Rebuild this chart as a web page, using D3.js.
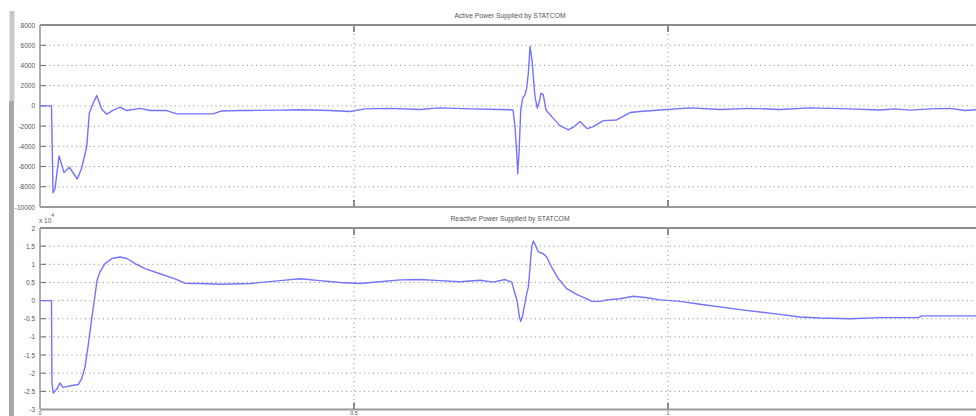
<!DOCTYPE html>
<html>
<head>
<meta charset="utf-8">
<script src="https://cdn.jsdelivr.net/npm/d3@7"></script>
<style>
  html, body { margin: 0; padding: 0; background: #fff; }
  svg { display: block; }
  text { font-family: "Liberation Sans", Arial, sans-serif; fill: #555; }
</style>
</head>
<body>
<svg id="chart" width="976" height="416"></svg>
<script>
// Time axis (s); the view runs from 0 to just under 1.5 s
const timeDomain = [0, 1.5];
const timeTicks = [0, 0.5, 1];
const timeTickLabels = ["0", "0.5", "1"];

// Active power supplied by the STATCOM (W)
const activeTime = [0.0000, 0.0183, 0.0207, 0.0239, 0.0303, 0.0382, 0.0467, 0.0594, 0.0664, 0.0744,
  0.0785, 0.0849, 0.0903, 0.0982, 0.1062, 0.1162, 0.1274, 0.1381, 0.1592, 0.1752,
  0.2018, 0.2177, 0.2755, 0.2893, 0.3185, 0.3344, 0.3822, 0.4140, 0.4618, 0.4936,
  0.5175, 0.5573, 0.6051, 0.6369, 0.6847, 0.7325, 0.7532, 0.7564, 0.7591, 0.7607,
  0.7628, 0.7655, 0.7686, 0.7723, 0.7750, 0.7776, 0.7803, 0.7819, 0.7839, 0.7855,
  0.7882, 0.7919, 0.7951, 0.7978, 0.8015, 0.8057, 0.8148, 0.8280, 0.8413, 0.8492,
  0.8599, 0.8652, 0.8715, 0.8811, 0.8970, 0.9183, 0.9395, 0.9554, 0.9873, 1.0350,
  1.0828, 1.1306, 1.1783, 1.2261, 1.2898, 1.3376, 1.3615, 1.3854, 1.4172, 1.4490,
  1.4729, 1.4968];
const activePower = [0, 0, -8600, -8200, -4950, -6600, -6070, -7230, -6140, -4030,
  -700, 300, 1020, -300, -820, -450, -130, -460, -250, -460,
  -460, -790, -790, -500, -460, -450, -420, -380, -450, -550,
  -300, -250, -350, -200, -300, -350, -400, -2050, -4650, -6730,
  -4650, -400, 760, 1090, 1750, 3240, 5870, 5220, 4230, 2900,
  920, -230, 430, 1260, 1090, -400, -1060, -1950, -2380, -2110,
  -1550, -1880, -2250, -2050, -1460, -1390, -660, -560, -400, -200,
  -350, -250, -350, -200, -300, -400, -300, -420, -300, -250,
  -450, -350];
const activeTicks = [8000, 6000, 4000, 2000, 0, -2000, -4000, -6000, -8000, -10000];

// Reactive power supplied by the STATCOM (var, in units of 10^4)
const reactiveTime = [0.0000, 0.0183, 0.0191, 0.0212, 0.0271, 0.0318, 0.0366, 0.0425, 0.0510, 0.0610,
  0.0664, 0.0717, 0.0764, 0.0812, 0.0865, 0.0908, 0.0955, 0.1035, 0.1147, 0.1274,
  0.1385, 0.1513, 0.1672, 0.1911, 0.2150, 0.2309, 0.2548, 0.2866, 0.3344, 0.3822,
  0.4140, 0.4459, 0.4777, 0.5096, 0.5414, 0.5732, 0.6051, 0.6369, 0.6688, 0.7006,
  0.7218, 0.7405, 0.7511, 0.7564, 0.7601, 0.7633, 0.7655, 0.7686, 0.7750, 0.7776,
  0.7803, 0.7830, 0.7855, 0.7893, 0.7935, 0.8015, 0.8069, 0.8148, 0.8254, 0.8387,
  0.8546, 0.8706, 0.8785, 0.8917, 0.9024, 0.9236, 0.9448, 0.9661, 0.9873, 1.0191,
  1.0510, 1.1147, 1.1783, 1.2102, 1.2420, 1.2898, 1.3376, 1.3981, 1.4045, 1.4968];
const reactivePower = [0, 0, -2.29, -2.55, -2.43, -2.27, -2.39, -2.37, -2.34, -2.31,
  -2.15, -1.83, -1.28, -0.64, 0, 0.56, 0.79, 1.02, 1.16, 1.20,
  1.16, 1.02, 0.88, 0.74, 0.60, 0.48, 0.47, 0.45, 0.47, 0.55,
  0.60, 0.55, 0.50, 0.47, 0.52, 0.57, 0.58, 0.55, 0.52, 0.56,
  0.51, 0.58, 0.51, 0.19, -0.04, -0.45, -0.57, -0.41, 0.19, 0.37,
  0.92, 1.48, 1.64, 1.52, 1.34, 1.29, 1.20, 0.92, 0.60, 0.33,
  0.17, 0.05, -0.02, -0.02, 0.02, 0.05, 0.12, 0.08, 0.02, -0.02,
  -0.10, -0.25, -0.38, -0.45, -0.48, -0.50, -0.47, -0.47, -0.42, -0.42];
const reactiveTicks = [2, 1.5, 1, 0.5, 0, -0.5, -1, -1.5, -2, -2.5, -3];
const reactiveTickLabels = ["2", "1.5", "1", "0.5", "0", "-0.5", "-1", "-1.5", "-2", "-2.5", "-3"];

const svg = d3.select("#chart");

// window frame strip on the left
const grad = svg.append("defs").append("linearGradient").attr("id", "strip")
  .attr("x1", 0).attr("x2", 1).attr("y1", 0).attr("y2", 0);
grad.append("stop").attr("offset", "0%").attr("stop-color", "#e4e4e4");
grad.append("stop").attr("offset", "50%").attr("stop-color", "#bdbdbd");
grad.append("stop").attr("offset", "100%").attr("stop-color", "#e6e6e6");
svg.append("rect").attr("x", 9).attr("y", 11).attr("width", 6).attr("height", 90).attr("fill", "url(#strip)");
svg.append("rect").attr("x", 9).attr("y", 101).attr("width", 5).attr("height", 315).attr("fill", "#a6a6a6");

const x = d3.scaleLinear().domain(timeDomain).range([40, 982]);

function panel(cfg) {
  const y = d3.scaleLinear().domain(cfg.domain).range([cfg.bottom, cfg.top]);
  const g = svg.append("g");

  // dotted grid
  g.selectAll("line.hgrid").data(cfg.ticks.filter(t => t > cfg.domain[0] && t < cfg.domain[1]))
    .join("line").attr("class", "hgrid")
    .attr("x1", 40).attr("x2", 982)
    .attr("y1", d => y(d)).attr("y2", d => y(d))
    .attr("stroke", "#8a8a8a").attr("stroke-width", 1).attr("stroke-dasharray", "1,3.5");
  g.selectAll("line.vgrid").data(timeTicks.filter(t => t > 0))
    .join("line").attr("class", "vgrid")
    .attr("x1", d => x(d)).attr("x2", d => x(d))
    .attr("y1", cfg.top).attr("y2", cfg.bottom)
    .attr("stroke", "#8a8a8a").attr("stroke-width", 1).attr("stroke-dasharray", "1,3.5");

  // inward tick marks
  g.selectAll("line.ytick").data(cfg.ticks)
    .join("line").attr("class", "ytick")
    .attr("x1", 40).attr("x2", 46)
    .attr("y1", d => y(d)).attr("y2", d => y(d))
    .attr("stroke", "#666").attr("stroke-width", 1);
  g.selectAll("line.xtickT").data(timeTicks.filter(t => t > 0))
    .join("line").attr("class", "xtickT")
    .attr("x1", d => x(d)).attr("x2", d => x(d))
    .attr("y1", cfg.top).attr("y2", cfg.top + 7)
    .attr("stroke", "#555").attr("stroke-width", 1.3);
  g.selectAll("line.xtickB").data(timeTicks.filter(t => t > 0))
    .join("line").attr("class", "xtickB")
    .attr("x1", d => x(d)).attr("x2", d => x(d))
    .attr("y1", cfg.bottom - 7).attr("y2", cfg.bottom)
    .attr("stroke", "#555").attr("stroke-width", 1.3);

  // axes box
  g.append("line").attr("x1", 40).attr("x2", 982).attr("y1", cfg.top).attr("y2", cfg.top)
    .attr("stroke", "#8c8c8c").attr("stroke-width", 2);
  g.append("line").attr("x1", 40).attr("x2", 982).attr("y1", cfg.bottom).attr("y2", cfg.bottom)
    .attr("stroke", "#9a9a9a").attr("stroke-width", 2);
  g.append("line").attr("x1", 40).attr("x2", 40).attr("y1", cfg.top).attr("y2", cfg.bottom)
    .attr("stroke", "#9a9a9a").attr("stroke-width", 1.6);

  // y tick labels
  g.selectAll("text.ylab").data(cfg.ticks)
    .join("text").attr("class", "ylab")
    .attr("x", 35).attr("y", d => y(d))
    .attr("text-anchor", "end").attr("dominant-baseline", "central")
    .attr("font-size", 6.5)
    .text((d, i) => cfg.labels[i]);

  // title
  g.append("text").attr("x", 510).attr("y", cfg.top - 7)
    .attr("text-anchor", "middle").attr("font-size", 6.8)
    .text(cfg.title);

  // trace
  const pts = cfg.times.map((t, i) => [t, cfg.values[i]]);
  g.append("path").datum(pts)
    .attr("fill", "none").attr("stroke", "#7373ff").attr("stroke-width", 1.4)
    .attr("stroke-linejoin", "round")
    .attr("d", d3.line().x(d => x(d[0])).y(d => y(d[1])));
  return y;
}

panel({
  top: 25, bottom: 207, domain: [-10000, 8000],
  ticks: activeTicks, labels: activeTicks.map(String),
  times: activeTime, values: activePower,
  title: "Active Power Supplied by STATCOM"
});

panel({
  top: 228, bottom: 409.5, domain: [-3, 2],
  ticks: reactiveTicks, labels: reactiveTickLabels,
  times: reactiveTime, values: reactivePower,
  title: "Reactive Power Supplied by STATCOM"
});

// exponent label for the reactive axis
const expo = svg.append("text").attr("x", 39).attr("y", 223).attr("font-size", 6.5);
expo.append("tspan").text("x 10");
expo.append("tspan").attr("dy", -6).attr("font-size", 5).text("4");

// time tick labels along the bottom edge
svg.selectAll("text.xlab").data(timeTicks)
  .join("text").attr("class", "xlab")
  .attr("x", d => x(d)).attr("y", 410.5)
  .attr("text-anchor", "middle").attr("dominant-baseline", "hanging")
  .attr("font-size", 5.5)
  .text((d, i) => timeTickLabels[i]);
</script>
</body>
</html>
